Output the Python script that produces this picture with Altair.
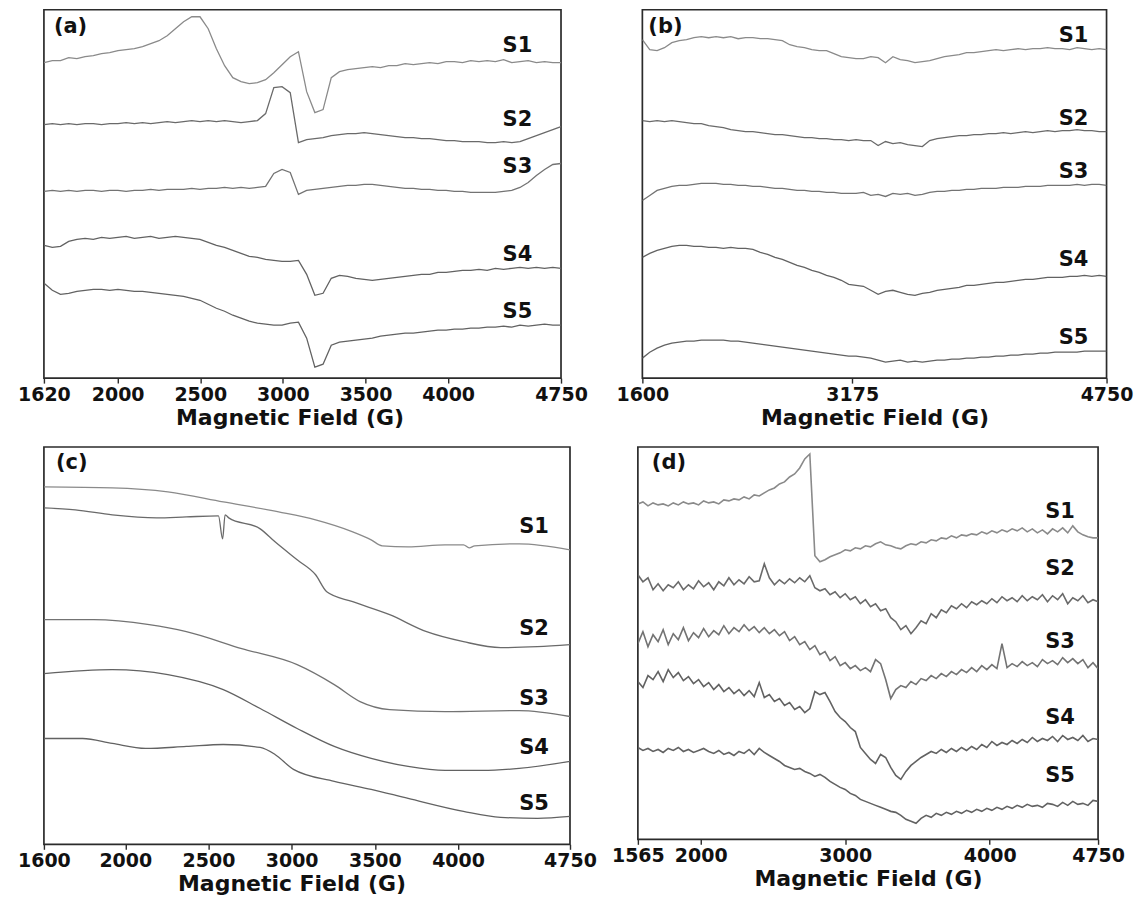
import altair as alt
import numpy as np
import pandas as pd

SAMPLES = ["S1", "S2", "S3", "S4", "S5"]
FONT = "DejaVu Sans"

# ---------------- (a) ----------------
a_field = np.linspace(1555, 4683, 64)
a_s1 = [316, 318, 318, 321, 320, 322, 323, 325, 326, 328,
        329, 330, 332, 335, 338, 343, 350, 357, 362, 362,
        350, 330, 313, 301, 297, 295, 296, 299, 306, 314,
        322, 327, 287, 266, 269, 301, 307, 309, 310, 311,
        312, 311, 313, 313, 315, 314, 315, 316, 315, 317,
        317, 316, 318, 317, 318, 317, 319, 316, 317, 318,
        316, 317, 316, 316]
a_s2 = [254, 255, 254, 255, 254, 255, 255, 254, 255, 255,
        256, 255, 256, 255, 256, 257, 256, 257, 258, 257,
        258, 257, 258, 257, 256, 257, 258, 265, 291, 292,
        286, 236, 239, 240, 241, 243, 244, 245, 245, 246,
        245, 244, 243, 242, 241, 241, 240, 240, 239, 238,
        238, 237, 237, 237, 236, 236, 237, 236, 237, 240,
        243, 246, 249, 252]
a_s3 = [187, 188, 187, 188, 187, 188, 188, 187, 188, 188,
        187, 188, 188, 189, 188, 189, 189, 189, 190, 189,
        190, 190, 191, 190, 191, 190, 191, 192, 205, 209,
        206, 184, 188, 189, 190, 191, 192, 193, 193, 194,
        194, 193, 192, 191, 190, 190, 189, 189, 188, 188,
        187, 187, 186, 186, 186, 186, 187, 188, 191, 196,
        203, 209, 214, 215]
a_s4 = [133, 131, 132, 137, 139, 140, 139, 141, 140, 141,
        142, 140, 141, 142, 140, 141, 142, 141, 140, 139,
        136, 133, 131, 128, 125, 122, 121, 119, 118, 117,
        117, 118, 104, 83, 85, 100, 103, 102, 100, 99,
        98, 99, 100, 101, 102, 103, 104, 104, 106, 106,
        107, 108, 108, 109, 108, 110, 109, 110, 111, 110,
        111, 110, 111, 110]
a_s5 = [95, 88, 84, 85, 87, 88, 89, 89, 88, 89,
        88, 87, 87, 86, 85, 84, 83, 82, 80, 78,
        74, 70, 67, 63, 60, 57, 55, 54, 53, 53,
        55, 56, 40, 11, 14, 33, 36, 37, 38, 39,
        40, 42, 43, 44, 45, 45, 46, 47, 48, 48,
        49, 49, 50, 50, 51, 51, 52, 51, 53, 52,
        53, 54, 53, 53]
a_ticks = [1554, 2000, 2500, 3000, 3500, 4000, 4683]
a_tick_text = ["1620", "2000", "2500", "3000", "3500", "4000", "4750"]

# ---------------- (b) ----------------
b_field = np.arange(1600, 4751, 50)
b_s1 = [339, 329, 328, 331, 336, 338, 339, 341, 342, 341,
        342, 341, 342, 340, 341, 341, 340, 340, 339, 338,
        334, 332, 331, 329, 328, 328, 325, 322, 321, 320,
        320, 322, 321, 316, 322, 319, 318, 316, 317, 318,
        320, 322, 323, 324, 326, 326, 327, 328, 329, 328,
        329, 330, 329, 330, 330, 331, 330, 330, 329, 331,
        330, 329, 330, 329]
b_s2 = [258, 257, 258, 257, 258, 257, 256, 255, 255, 253,
        252, 251, 249, 248, 247, 247, 246, 245, 244, 244,
        243, 242, 241, 241, 240, 240, 239, 239, 238, 239,
        238, 238, 233, 237, 235, 236, 234, 233, 232, 238,
        240, 241, 242, 243, 243, 244, 244, 245, 245, 246,
        245, 246, 247, 246, 247, 248, 247, 248, 248, 249,
        248, 248, 247, 247]
b_s3 = [178, 183, 188, 190, 192, 193, 193, 194, 195, 195,
        195, 194, 194, 193, 193, 192, 192, 191, 190, 190,
        189, 188, 188, 187, 187, 186, 186, 185, 185, 185,
        186, 183, 184, 182, 185, 184, 185, 183, 184, 186,
        187, 187, 188, 188, 189, 189, 190, 190, 190, 191,
        191, 191, 192, 192, 192, 193, 193, 193, 193, 194,
        193, 194, 194, 193]
b_s4 = [121, 125, 128, 130, 132, 133, 133, 132, 132, 131,
        131, 130, 131, 130, 130, 129, 126, 124, 121, 119,
        116, 113, 111, 108, 106, 103, 101, 98, 94, 93,
        92, 88, 84, 87, 88, 86, 84, 83, 85, 86,
        88, 89, 90, 91, 93, 93, 94, 95, 96, 96,
        97, 98, 99, 99, 100, 101, 101, 101, 102, 102,
        103, 102, 103, 102]
b_s5 = [20, 26, 30, 33, 35, 36, 37, 37, 38, 38,
        38, 38, 37, 37, 36, 35, 34, 33, 32, 31,
        30, 29, 28, 27, 26, 25, 24, 23, 22, 22,
        21, 20, 18, 16, 17, 18, 16, 17, 16, 17,
        18, 18, 19, 19, 20, 20, 21, 21, 22, 22,
        23, 23, 24, 24, 25, 25, 26, 26, 26, 26,
        27, 27, 27, 27]
b_ticks = [1600, 3024, 4750]
b_tick_text = ["1600", "3175", "4750"]

# ---------------- (c) ----------------
c_s1_field = [1511, 1922, 2256, 2589, 2922, 3144, 3367, 3478, 3544, 3700, 3922, 4033, 4067, 4100, 4367, 4673]
c_s1 = [358, 357, 353, 343, 333, 325, 313, 305, 299, 298, 300, 300, 297, 299, 301, 295]
c_s2_field = [1511, 1700, 1922, 2189, 2367, 2560, 2585, 2600, 2622, 2811, 2900, 3033, 3144, 3211, 3367,
              3589, 3811, 4033, 4256, 4478, 4673]
c_s2 = [337, 335, 330, 327, 328, 329, 306, 330, 327, 316, 303, 285, 270, 253, 243,
        230, 213, 203, 197, 198, 200]
c_s3_field = [1511, 1811, 2144, 2367, 2700, 3033, 3256, 3411, 3589, 3922, 4367, 4673]
c_s3 = [225, 225, 220, 213, 196, 180, 160, 143, 135, 133, 134, 128]
c_s4_field = [1511, 1922, 2256, 2589, 2811, 3033, 3256, 3478, 3700, 3922, 4144, 4367, 4673]
c_s4 = [171, 175, 170, 155, 136, 116, 98, 86, 78, 74, 74, 76, 83]
c_s5_field = [1511, 1744, 1922, 2122, 2367, 2589, 2811, 2900, 3011, 3256, 3478, 3700, 4033, 4256, 4478, 4673]
c_s5 = [106, 106, 101, 96, 98, 100, 97, 90, 75, 63, 55, 46, 33, 27, 26, 28]
c_ticks = [1511, 2000, 2500, 3000, 3500, 4000, 4673]
c_tick_text = ["1600", "2000", "2500", "3000", "3500", "4000", "4750"]

# ---------------- (d) ----------------
d_field = np.linspace(1565, 4750, 92)
d_s1 = [336, 338, 334, 337, 335, 336, 334, 337, 335, 338,
        336, 337, 335, 339, 337, 338, 336, 340, 339, 341,
        340, 343, 341, 345, 344, 347, 350, 352, 356, 358,
        363, 366, 372, 381, 386, 284, 278, 280, 283, 285,
        287, 290, 289, 292, 291, 294, 293, 296, 298, 295,
        294, 292, 291, 294, 296, 295, 298, 297, 300, 299,
        302, 301, 304, 302, 305, 304, 306, 305, 308, 306,
        309, 307, 310, 308, 311, 309, 312, 308, 311, 307,
        310, 306, 311, 308, 312, 307, 314, 308, 305, 303,
        302, 302]
d_s2 = [265, 258, 262, 250, 256, 249, 255, 252, 258, 250,
        255, 251, 259, 253, 257, 250, 258, 254, 262, 255,
        260, 256, 263, 258, 259, 276, 262, 255, 260, 256,
        261, 257, 262, 258, 264, 252, 249, 251, 245, 248,
        242, 246, 240, 243, 236, 240, 233, 236, 229, 231,
        222, 218, 210, 214, 206, 212, 219, 216, 226, 222,
        230, 227, 234, 231, 236, 232, 238, 235, 239, 236,
        241, 237, 243, 239, 242, 238, 244, 239, 243, 240,
        245, 238, 244, 240, 246, 236, 242, 239, 244, 237,
        240, 238]
d_s3 = [196, 208, 193, 205, 198, 210, 195, 206, 200, 212,
        199, 207, 202, 211, 203, 209, 205, 214, 206, 212,
        208, 215, 209, 213, 207, 212, 206, 210, 204, 208,
        199, 203, 195, 198, 190, 194, 185, 188, 179, 183,
        174, 177, 171, 174, 169, 172, 168, 180, 176, 160,
        141, 150, 154, 152, 158, 155, 161, 159, 164, 161,
        166, 163, 168, 165, 170, 167, 172, 168, 174, 170,
        175, 171, 196, 172, 176, 173, 178, 174, 177, 173,
        180, 176, 179, 175, 182, 177, 181, 176, 180, 172,
        177, 171]
d_s4 = [158, 152, 164, 160, 168, 158, 170, 162, 167, 159,
        163, 156, 160, 153, 157, 150, 155, 148, 152, 146,
        150, 144, 149, 143, 157, 142, 145, 138, 141, 134,
        137, 130, 133, 127, 131, 148, 145, 147, 138, 128,
        122, 118, 112, 108, 92, 86, 80, 76, 85, 82,
        72, 64, 60, 68, 74, 78, 82, 85, 88, 86,
        90, 87, 91, 88, 92, 89, 93, 90, 95, 92,
        98, 94, 97, 95, 99, 96, 100, 97, 102, 98,
        101, 99, 103, 98, 104, 100, 102, 99, 104, 98,
        101, 100]
d_s5 = [92, 89, 91, 88, 90, 87, 91, 89, 92, 88,
        90, 87, 89, 91, 88, 86, 89, 85, 87, 84,
        88, 86, 90, 85, 91, 87, 84, 81, 78, 74,
        72, 70, 71, 68, 66, 63, 65, 62, 58, 55,
        52, 50, 46, 44, 40, 38, 36, 34, 32, 30,
        28, 27, 24, 20, 18, 16, 21, 24, 22, 26,
        24, 27, 25, 28, 26, 29, 27, 30, 28, 31,
        29, 32, 30, 33, 31, 34, 32, 35, 33, 34,
        32, 36, 35, 33, 37, 34, 38, 35, 36, 34,
        39, 38]
d_ticks = [1565, 2000, 3000, 4000, 4750]
d_tick_text = ["1565", "2000", "3000", "4000", "4750"]


def traces(fields, values):
    rows = []
    for name, f, v in zip(SAMPLES, fields, values):
        rows.append(pd.DataFrame({"field": np.asarray(f, dtype=float), "signal": v, "sample": name}))
    return pd.concat(rows, ignore_index=True)


def panel(df, x_domain, ticks, tick_text, y_top, width, height, colors,
          label_field, label_levels, tag, tag_xy, interpolate="linear",
          title_x=None, stroke_width=1.3):
    label_expr = ("[" + ",".join(f"'{t}'" for t in tick_text) + "][indexof(["
                  + ",".join(str(v) for v in ticks) + "], datum.value)]")
    axis_kw = dict(values=ticks, labelExpr=label_expr, format="d", title="Magnetic Field (G)")
    if title_x is not None:
        axis_kw["titleX"] = title_x
    x = alt.X("field:Q", scale=alt.Scale(domain=x_domain, nice=False, zero=False),
              axis=alt.Axis(**axis_kw))
    y = alt.Y("signal:Q", scale=alt.Scale(domain=[0, y_top], nice=False, zero=False), axis=None)

    lines = alt.Chart(df).mark_line(strokeWidth=stroke_width, interpolate=interpolate, clip=True).encode(
        x=x, y=y,
        color=alt.Color("sample:N", scale=alt.Scale(domain=SAMPLES, range=colors), legend=None),
        order="field:Q",
    )
    lab_df = pd.DataFrame({"field": [label_field] * 5, "signal": label_levels, "sample": SAMPLES})
    labels = alt.Chart(lab_df).mark_text(
        font=FONT, fontSize=21, fontWeight="bold", color="#111111", align="center", baseline="middle"
    ).encode(x="field:Q", y="signal:Q", text="sample:N")
    tag_mark = alt.Chart(pd.DataFrame({"t": [tag]})).mark_text(
        font=FONT, fontSize=21, fontWeight="bold", color="#111111", align="left", baseline="middle"
    ).encode(x=alt.value(tag_xy[0]), y=alt.value(tag_xy[1]), text="t:N")
    return alt.layer(lines, labels, tag_mark).properties(width=width, height=height)


pa = panel(traces([a_field] * 5, [a_s1, a_s2, a_s3, a_s4, a_s5]),
           [1554, 4683], a_ticks, a_tick_text, 369, 518, 369,
           ["#8a8a8a", "#6a6a6a", "#737373", "#626262", "#626262"],
           4419, [333, 259, 211, 123, 66], "(a)", (10, 17), title_x=246)
pb = panel(traces([b_field] * 5, [b_s1, b_s2, b_s3, b_s4, b_s5]),
           [1600, 4750], b_ticks, b_tick_text, 369, 465, 369,
           ["#767676", "#626262", "#6a6a6a", "#5a5a5a", "#868686"],
           4526, [343, 260, 206, 118, 40], "(b)", (6, 17))
pc = panel(traces([c_s1_field, c_s2_field, c_s3_field, c_s4_field, c_s5_field],
                  [c_s1, c_s2, c_s3, c_s4, c_s5]),
           [1511, 4673], c_ticks, c_tick_text, 398, 527, 398,
           ["#a0a0a0", "#606060", "#8a8a8a", "#505050", "#aaaaaa"],
           4457, [318, 216, 146, 96, 40], "(c)", (12, 16), interpolate="monotone", title_x=248)
pd_ = panel(traces([d_field] * 5, [d_s1, d_s2, d_s3, d_s4, d_s5]),
            [1565, 4750], d_ticks, d_tick_text, 393, 461, 393,
            ["#6e6e6e", "#4a4a4a", "#505050", "#505050", "#5a5a5a"],
            4487, [328, 271, 198, 122, 63], "(d)", (14, 16), stroke_width=1.6)

top = alt.hconcat(pa, pb, spacing=81.5, bounds="flush")
bottom = alt.hconcat(pc, pd_, spacing=68, bounds="flush")

chart = alt.vconcat(top, bottom, spacing=17).properties(
    padding={"left": 16, "top": 8, "right": 0, "bottom": 0},
    background="white",
).configure_view(
    stroke="#2b2b2b", strokeWidth=1.7
).configure_axis(
    labelFont=FONT, labelFontWeight="bold", labelFontSize=19, labelColor="#111111",
    titleFont=FONT, titleFontWeight="bold", titleFontSize=22, titleColor="#111111",
    tickColor="#2b2b2b", tickSize=5, tickWidth=1.4, domain=False, grid=False,
    labelPadding=2, titlePadding=3, labelFlush=False,
)

chart.save("out.html", embed_options={"renderer": "svg", "actions": False})
